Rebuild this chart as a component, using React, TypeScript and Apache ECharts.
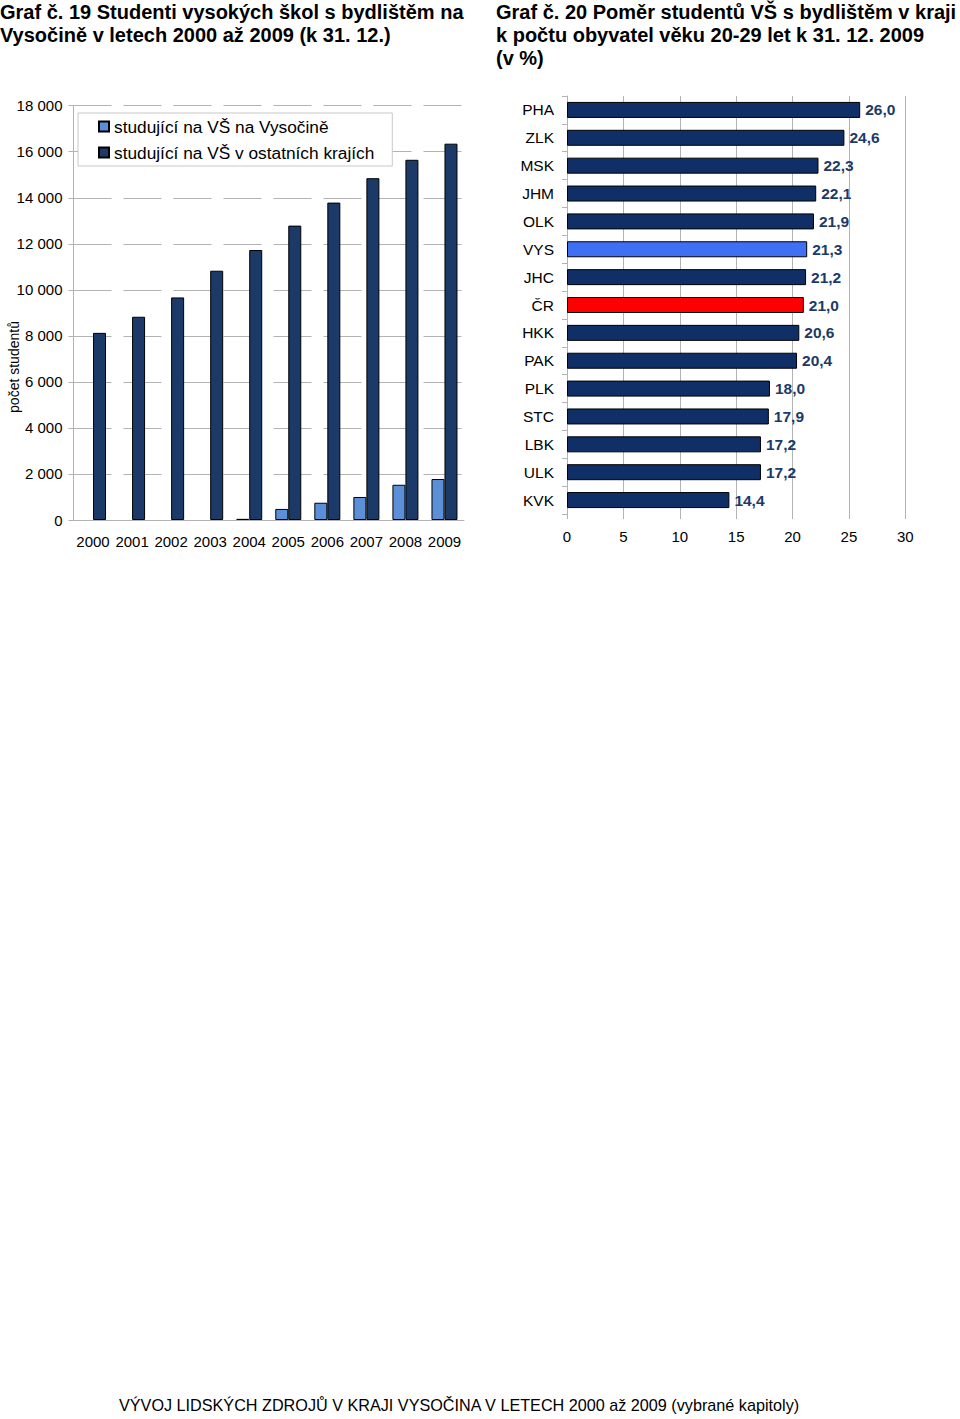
import React, { useEffect, useRef } from "react";
import * as echarts from "echarts";

const years = ["2000", "2001", "2002", "2003", "2004", "2005", "2006", "2007", "2008", "2009"];
const vysocina: (number | null)[] = [null, null, null, null, 50, 480, 750, 1000, 1530, 1780];
const ostatni = [8130, 8830, 9670, 10830, 11730, 12790, 13790, 14850, 15650, 16350];

const regions = ["PHA", "ZLK", "MSK", "JHM", "OLK", "VYS", "JHC", "ČR", "HKK", "PAK", "PLK", "STC", "LBK", "ULK", "KVK"];
const ratios = [26.0, 24.6, 22.3, 22.1, 21.9, 21.3, 21.2, 21.0, 20.6, 20.4, 18.0, 17.9, 17.2, 17.2, 14.4];

const seriesNames = ["studující na VŠ na Vysočině", "studující na VŠ v ostatních krajích"];

const title1 = "Graf č. 19 Studenti vysokých škol s bydlištěm na\nVysočině v letech 2000 až 2009 (k 31. 12.)";
const title2 = "Graf č. 20 Poměr studentů VŠ s bydlištěm v kraji\nk počtu obyvatel věku 20-29 let k 31. 12. 2009\n(v %)";
const footer = "VÝVOJ LIDSKÝCH ZDROJŮ V KRAJI VYSOČINA V LETECH 2000 až 2009 (vybrané kapitoly)";
const yAxisName = "počet studentů";

const FONT = "'Liberation Sans', Arial, sans-serif";
const DARK_LEFT = "#1b3a68";
const LIGHT_LEFT = "#5b8fd7";
const DARK_RIGHT = "#0f2f66";
const VYS_COLOR = "#3f6ff2";
const CR_COLOR = "#ff0000";
const LABEL_COLOR = "#1c3a68";

export default function App() {
  const ref = useRef<HTMLDivElement>(null);
  useEffect(() => {
    if (!ref.current) return;
    const chart = echarts.init(ref.current, undefined, { renderer: "svg" });
    const fmtThousands = (v: number) => String(v).replace(/\B(?=(\d{3})+(?!\d))/g, " ");
    chart.setOption({
      animation: false,
      backgroundColor: "#ffffff",
      textStyle: { fontFamily: FONT },
      title: [
        {
          text: title1,
          left: 0,
          top: 0,
          padding: 0,
          textStyle: { fontFamily: FONT, fontWeight: "bold", fontSize: 20, lineHeight: 23, color: "#000" },
        },
        {
          text: title2,
          left: 496,
          top: 0,
          padding: 0,
          textStyle: { fontFamily: FONT, fontWeight: "bold", fontSize: 20, lineHeight: 23, color: "#000" },
        },
        {
          text: footer,
          left: 119,
          top: 1397,
          padding: 0,
          textStyle: { fontFamily: FONT, fontWeight: "normal", fontSize: 16.2, color: "#000" },
        },
      ],
      legend: {
        left: 78,
        top: 113,
        orient: "vertical",
        data: seriesNames,
        backgroundColor: "#ffffff",
        borderColor: "#c8c8c8",
        borderWidth: 1,
        padding: [5, 18, 5, 20],
        itemWidth: 10,
        itemHeight: 10,
        itemGap: 9,
        icon: "rect",
        textStyle: { fontFamily: FONT, fontSize: 17.3, color: "#000" },
      },
      graphic: [
        {
          type: "text",
          x: 14,
          y: 367,
          rotation: Math.PI / 2,
          style: {
            text: yAxisName,
            font: `14px ${FONT}`,
            fill: "#000",
            textAlign: "center",
            textVerticalAlign: "middle",
          },
        },
      ],
      grid: [
        { left: 73.5, top: 105.7, width: 390.5, height: 414.3 },
        { left: 567, top: 96, width: 338.3, height: 418 },
      ],
      xAxis: [
        {
          gridIndex: 0,
          type: "category",
          data: years,
          axisLine: { show: true, lineStyle: { color: "#b3b3b3" } },
          axisTick: { show: false },
          axisLabel: { fontSize: 15, color: "#000", margin: 14, fontFamily: FONT, interval: 0 },
        },
        {
          gridIndex: 1,
          type: "value",
          min: 0,
          max: 30,
          interval: 5,
          axisLine: { show: false },
          axisTick: { show: true, length: 5, lineStyle: { color: "#b3b3b3" } },
          axisLabel: { fontSize: 15, color: "#000", margin: 15, fontFamily: FONT },
          splitLine: { show: true, lineStyle: { color: "#b3b3b3", width: 1 } },
        },
      ],
      yAxis: [
        {
          gridIndex: 0,
          type: "value",
          min: 0,
          max: 18000,
          interval: 2000,
          axisLine: { show: true, lineStyle: { color: "#b3b3b3" } },
          axisTick: { show: true, length: 5, lineStyle: { color: "#b3b3b3" } },
          axisLabel: { fontSize: 15, color: "#000", margin: 11, fontFamily: FONT, formatter: fmtThousands },
          splitLine: { show: true, lineStyle: { color: "#b3b3b3", type: [38, 12], width: 1 } },
        },
        {
          gridIndex: 1,
          type: "category",
          data: regions,
          inverse: true,
          axisLine: { show: true, lineStyle: { color: "#b3b3b3" } },
          axisTick: { show: true, length: 5, lineStyle: { color: "#b3b3b3" } },
          axisLabel: { fontSize: 15.5, color: "#000", margin: 13, fontFamily: FONT },
        },
      ],
      series: [
        {
          name: seriesNames[0],
          type: "bar",
          xAxisIndex: 0,
          yAxisIndex: 0,
          data: vysocina.map((v) => (v === null ? "-" : v)),
          barWidth: 13,
          barGap: "0%",
          itemStyle: { color: LIGHT_LEFT, borderColor: "#000", borderWidth: 1 },
        },
        {
          name: seriesNames[1],
          type: "bar",
          xAxisIndex: 0,
          yAxisIndex: 0,
          data: ostatni,
          barWidth: 13,
          barGap: "0%",
          itemStyle: { color: DARK_LEFT, borderColor: "#000", borderWidth: 1 },
        },
        {
          name: "ratio",
          type: "bar",
          xAxisIndex: 1,
          yAxisIndex: 1,
          barWidth: 16,
          data: ratios.map((v, i) => ({
            value: v,
            itemStyle: {
              color: regions[i] === "VYS" ? VYS_COLOR : regions[i] === "ČR" ? CR_COLOR : DARK_RIGHT,
            },
          })),
          itemStyle: { color: DARK_RIGHT, borderColor: "#000", borderWidth: 1 },
          label: {
            show: true,
            position: "right",
            distance: 5,
            fontFamily: FONT,
            fontSize: 15.5,
            fontWeight: "bold",
            color: LABEL_COLOR,
            formatter: (p: any) => Number(p.value).toFixed(1).replace(".", ","),
          },
        },
      ],
    });
    return () => chart.dispose();
  }, []);
  return (
    <div
      ref={ref}
      style={{ position: "absolute", left: 0, top: 0, width: 960, height: 1419 }}
    />
  );
}
